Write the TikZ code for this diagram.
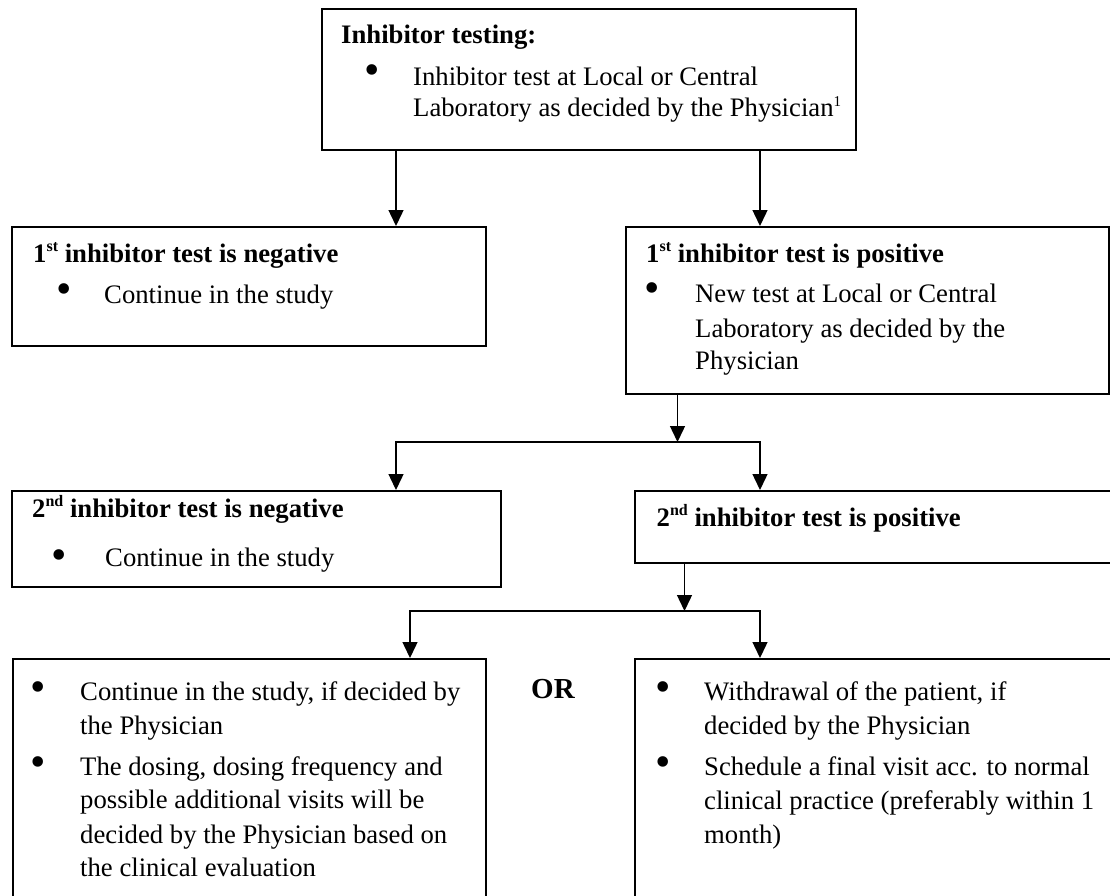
\documentclass[tikz,border=0pt]{standalone}
\usepackage{fontspec}
\setmainfont{Liberation Serif}
\usetikzlibrary{arrows.meta}
\newcommand\mysup[1]{\raisebox{11pt}{\fontsize{16}{16}\selectfont #1}}
\begin{document}
\begin{tikzpicture}[x=1pt,y=-1pt,
  box/.style={draw, line width=2.3pt, inner sep=0pt, anchor=north west},
  txt/.style={inner sep=0pt, anchor=base west, font=\fontsize{26.7}{32}\selectfont},
  hd/.style={inner sep=0pt, anchor=base west, font=\fontsize{26.7}{32}\selectfont\bfseries},
  bul/.style={inner sep=0pt, anchor=center, font=\fontsize{44}{44}\selectfont},
  conn/.style={line width=1.4pt},
  arr/.style={conn, -{Triangle[width=15pt,length=16pt]}}]
\useasboundingbox (0,0) rectangle (1110,895);
\clip (0,0) rectangle (1110,895);
\fill[white] (0,0) rectangle (1110,895);

% boxes
\node[box, minimum width=534pt, minimum height=141pt] (top) at (321,8) {};
\node[box, minimum width=474pt, minimum height=119pt] (n1) at (11,226) {};
\node[box, minimum width=483pt, minimum height=167pt] (p1) at (625,226) {};
\node[box, minimum width=489pt, minimum height=96pt] (n2) at (11,490) {};
\node[box, minimum width=500pt, minimum height=72pt] (p2) at (634,490) {};
\node[box, minimum width=473pt, minimum height=260pt] (bl) at (12,658) {};
\node[box, minimum width=500pt, minimum height=260pt] (br) at (634,658) {};

% junction points
\coordinate (j1m) at (677.5,442);
\coordinate (j1l) at (396,442);
\coordinate (j1r) at (760,442);
\coordinate (j2m) at (684.5,611);
\coordinate (j2l) at (410,611);
\coordinate (j2r) at (760,611);

% connectors
\draw[arr] (top.south -| j1l) -- (j1l |- n1.north);
\draw[arr] (top.south -| j1r) -- (j1r |- p1.north);
\draw[arr] (p1.south -| j1m) -- (j1m);
\draw[arr] (j1m) -| (j1l |- n2.north);
\draw[arr] (j1m) -| (j1r |- p2.north);
\draw[arr] (p2.south -| j2m) -- (j2m);
\draw[arr] (j2m) -| (j2l |- bl.north);
\draw[arr] (j2m) -| (j2r |- br.north);

% top box text
\node[hd] (th) at (341,43) {Inhibitor testing:};
\node[bul] (tb) at (372.5,75) {•};
\node[txt] (t1) at (413,85) {Inhibitor test at Local or Central};
\node[txt] (t2) at (413,116) {Laboratory as decided by the Physician\raisebox{10pt}{\fontsize{15}{15}\selectfont 1}};

% 1st negative
\node[hd] (n1h) at (33,262) {1\mysup{st} inhibitor test is negative};
\node[bul] (n1b) at (64,293.5) {•};
\node[txt] (n1t) at (104,303) {Continue in the study};

% 1st positive
\node[hd] (p1h) at (646,262) {1\mysup{st} inhibitor test is positive};
\node[bul] (p1b) at (652,293) {•};
\node[txt] (p1t1) at (695,302) {New test at Local or Central};
\node[txt] (p1t2) at (695,337) {Laboratory as decided by the};
\node[txt] (p1t3) at (695,369) {Physician};

% 2nd negative
\node[hd] (n2h) at (32,517) {2\mysup{nd} inhibitor test is negative};
\node[bul] (n2b) at (59,560) {•};
\node[txt] (n2t) at (105,566) {Continue in the study};

% 2nd positive
\node[hd] (p2h) at (656.5,526.5) {2\mysup{nd} inhibitor test is positive};

% bottom left
\node[bul] (blb1) at (38,692) {•};
\node[txt] (bl1) at (80,700) {Continue in the study, if decided by};
\node[txt] (bl2) at (80,734) {the Physician};
\node[bul] (blb2) at (38,767) {•};
\node[txt] (bl3) at (80,775) {The dosing, dosing frequency and};
\node[txt] (bl4) at (80,808.5) {possible additional visits will be};
\node[txt] (bl5) at (80,843) {decided by the Physician based on};
\node[txt] (bl6) at (80,876.5) {the clinical evaluation};

% OR
\node[inner sep=0pt, anchor=base west, font=\fontsize{29}{32}\selectfont\bfseries] (or) at (531,698) {OR};

% bottom right
\node[bul] (brb1) at (662.7,692) {•};
\node[txt] (br1) at (704,700) {Withdrawal of the patient, if};
\node[txt] (br2) at (704,734) {decided by the Physician};
\node[bul] (brb2) at (662.7,767) {•};
\node[txt] (br3) at (704,775) {Schedule a final visit acc. to normal};
\node[txt] (br4) at (704,809) {clinical practice (preferably within 1};
\node[txt] (br5) at (704,843) {month)};
\end{tikzpicture}
\end{document}
